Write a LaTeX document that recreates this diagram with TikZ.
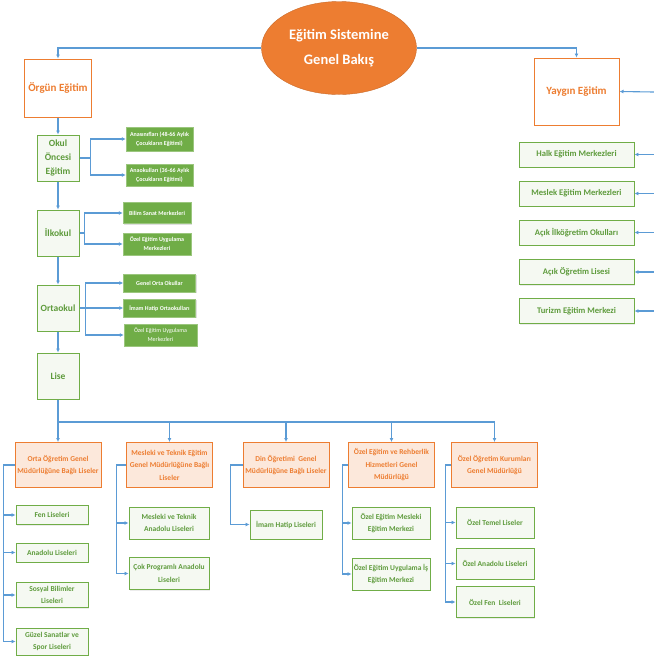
\documentclass[tikz,border=0pt]{standalone}
\usepackage{fontspec}
\setmainfont{Carlito}
\usetikzlibrary{arrows.meta,shapes.geometric,shadows}

\definecolor{accOrange}{HTML}{ED7D31}
\definecolor{accGreen}{HTML}{70AD47}
\definecolor{txtGreen}{HTML}{5E9B3C}
\definecolor{linkBlue}{HTML}{5B9BD5}
\definecolor{peach}{HTML}{FCE8DB}
\definecolor{paleGreen}{HTML}{F5F9F2}

\tikzset{
  link/.style={draw=linkBlue,line width=1.1pt,->},
  root/.style={ellipse,fill=accOrange,draw=accOrange!85!black,line width=0.4pt,text=white,minimum width=155pt,minimum height=93pt,
    inner sep=0pt,align=center,font=\bfseries\fontsize{14.5}{25}\selectfont},
  mainbox/.style={draw=accOrange,line width=1pt,fill=white,text=accOrange,align=center,
    inner sep=0pt,font=\bfseries\fontsize{11}{13}\selectfont},
  stage/.style={draw=accGreen,line width=1pt,fill=paleGreen,text=txtGreen,align=center,
    minimum width=42pt,minimum height=46pt,inner sep=0pt,font=\bfseries\fontsize{9.5}{14}\selectfont},
  tag/.style={fill=accGreen,draw=accGreen!70,text=white,align=center,inner sep=0pt,
    font=\bfseries\fontsize{6}{9}\selectfont,
    drop shadow={shadow xshift=1.2pt,shadow yshift=-1.2pt,opacity=0.25}},
  unit/.style={draw=accGreen,line width=0.9pt,fill=paleGreen,text=txtGreen,align=center,
    inner xsep=0pt,inner ysep=4pt,font=\bfseries\fontsize{7.5}{12.5}\selectfont,
    drop shadow={shadow xshift=1pt,shadow yshift=-1pt,opacity=0.15}},
  office/.style={draw=accOrange,line width=1pt,fill=peach,text=accOrange,align=center,
    minimum width=86pt,minimum height=45pt,inner sep=0pt,font=\bfseries\fontsize{7.5}{12.5}\selectfont}
}

\begin{document}
\begin{tikzpicture}[x=1pt,y=-1pt,>={Latex[length=4pt,width=4pt]}]
          \useasboundingbox (0,0) rectangle (654,657);

          \node[root] (top) at (339,48) {Eğitim Sistemine\\Genel Bakış};
          \node[mainbox,minimum width=67pt,minimum height=58pt] (orgun) at (58,88) {Örgün Eğitim};
          \node[mainbox,minimum width=85pt,minimum height=67pt] (yaygin) at (576.5,91.5) {Yaygın Eğitim};
          \draw[link] (top.west) -| (orgun.north);
          \draw[link] (top.east) -| (yaygin.north);

          \coordinate (yin) at (654,92);
          \draw[link] (yin) -- (yaygin.east);

          \foreach \name/\y/\txt in {halk/154.5/Halk Eğitim Merkezleri,meslek/193.5/Meslek Eğitim Merkezleri,
            acikio/232.5/Açık İlköğretim Okulları,acikol/272/Açık Öğretim Lisesi,turizm/311/Turizm Eğitim Merkezi}{
            \node[unit,minimum width=115pt,minimum height=25pt,font=\bfseries\fontsize{8.6}{10}\selectfont] (\name) at (576.5,\y) {\txt};
            \coordinate (\name-in) at (654,\y);
            \draw[link] (\name-in) -- (\name.east);
          }

          \node[stage] (okul) at (58,158) {Okul\\Öncesi\\Eğitim};
          \node[stage] (ilkokul) at (58,233) {İlkokul};
          \node[stage] (ortaokul) at (58,308) {Ortaokul};
          \node[stage] (lise) at (58,376) {Lise};
          \draw[link] (orgun) -- (okul);
          \draw[link] (okul) -- (ilkokul);
          \draw[link] (ilkokul) -- (ortaokul);
          \draw[link] (ortaokul) -- (lise);

          \node[tag,minimum width=67pt,minimum height=24pt] (anasinif) at (159.5,139) {Anasınıfları (48-66 Aylık\\Çocukların Eğitimi)};
          \node[tag,minimum width=67pt,minimum height=22pt] (anaokul) at (159.5,175) {Anaokulları (36-66 Aylık\\Çocukların Eğitimi)};
          \foreach \name in {anasinif,anaokul}{
            \draw[link] (okul.east) -- ++(11,0) |- (\name.west);
          }

          \node[tag,minimum width=68pt,minimum height=21pt] (bilim) at (157,213) {Bilim Sanat Merkezleri};
          \node[tag,minimum width=68pt,minimum height=22pt] (ozeluyg) at (157,244) {Özel Eğitim Uygulama\\Merkezleri};
          \foreach \name in {bilim,ozeluyg}{
            \draw[link] (ilkokul.east) -- ++(5,0) |- (\name.west);
          }

          \node[tag,minimum width=72pt,minimum height=18pt] (genelorta) at (159.5,283) {Genel Orta Okullar};
          \node[tag,minimum width=72pt,minimum height=18pt] (imamorta) at (159.5,308) {İmam Hatip Ortaokulları};
          \node[tag,minimum width=73pt,minimum height=22pt,font=\fontsize{6}{9}\selectfont] (ozeluygorta) at (160.5,335) {Özel Eğitim Uygulama\\Merkezleri};
          \foreach \name in {genelorta,imamorta,ozeluygorta}{
            \draw[link] (ortaokul.east) -- ++(6,0) |- (\name.west);
          }

          \coordinate (bus) at (0,422);
          \foreach \name/\x/\txt in {orta/58/{Orta Öğretim Genel\\Müdürlüğüne Bağlı Liseler},
            mesleki/169.5/{Mesleki ve Teknik Eğitim\\Genel Müdürlüğüne Bağlı\\Liseler},
            din/286/{Din Öğretimi~ Genel\\Müdürlüğüne Bağlı Liseler},
            ozelegt/391.5/{Özel Eğitim ve Rehberlik\\Hizmetleri Genel\\Müdürlüğü},
            ozelogr/494.5/{Özel Öğretim Kurumları\\Genel Müdürlüğü}}{
            \node[office] (\name) at (\x,465) {\txt};
            \draw[link] (lise.south) |- (\name.north |- bus) -- (\name.north);
          }

          \foreach \name/\y/\txt in {fen/515/Fen Liseleri,anadolu/552.5/Anadolu Liseleri,
            sosyal/595/{Sosyal Bilimler\\Liseleri},guzel/641.5/{Güzel Sanatlar ve\\Spor Liseleri}}{
            \node[unit,minimum width=72pt,minimum height=19pt] (\name) at (52,\y) {\txt};
            \draw[link] (orta.west) -- ++(-11,0) |- (\name.west);
          }

          \foreach \name/\y/\txt in {mtal/523/{Mesleki ve Teknik\\Anadolu Liseleri},cpal/573.5/{Çok Programlı Anadolu\\Liseleri}}{
            \node[unit,minimum width=80pt,minimum height=32pt] (\name) at (169,\y) {\txt};
            \draw[link] (mesleki.west) -- ++(-9.5,0) |- (\name.west);
          }

          \node[unit,minimum width=72pt,minimum height=29pt] (imamlise) at (286,524.5) {İmam Hatip Liseleri};
          \draw[link] (din.west) -- ++(-12,0) |- (imamlise.west);

          \foreach \name/\y/\txt in {oemem/523/{Özel Eğitim Mesleki\\Eğitim Merkezi},oeuiem/574/{Özel Eğitim Uygulama İş\\Eğitim Merkezi}}{
            \node[unit,minimum width=78pt,minimum height=32pt] (\name) at (391,\y) {\txt};
            \draw[link] (ozelegt.west) -- ++(-5.5,0) |- (\name.west);
          }

          \foreach \name/\y/\txt in {temel/522.5/Özel Temel Liseler,anaozel/563.5/Özel Anadolu Liseleri,fenozel/602/Özel Fen~ Liseleri}{
            \node[unit,minimum width=78pt,minimum height=31pt] (\name) at (495,\y) {\txt};
            \draw[link] (ozelogr.west) -- ++(-5.5,0) |- (\name.west);
          }
\end{tikzpicture}
\end{document}
